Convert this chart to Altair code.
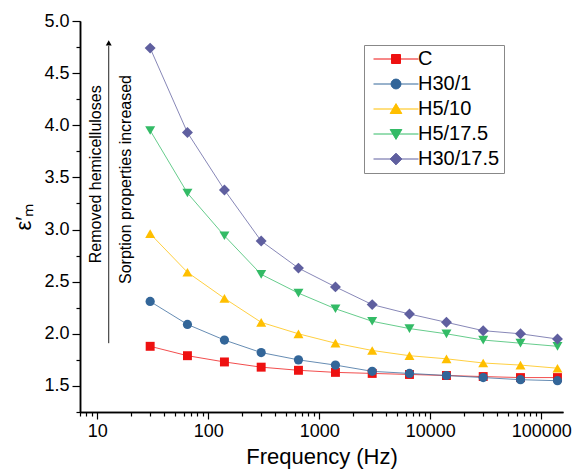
import altair as alt
import pandas as pd

# ---- data ----
freq = [30, 65, 140, 300, 650, 1400, 3000, 6500, 14000, 30000, 65000, 140000]
series_names = ["C", "H30/1", "H5/10", "H5/17.5", "H30/17.5"]
eps_C = [1.88, 1.79, 1.73, 1.68, 1.65, 1.63, 1.62, 1.61, 1.60, 1.59, 1.58, 1.58]
eps_H30_1 = [2.31, 2.09, 1.94, 1.82, 1.75, 1.70, 1.64, 1.62, 1.60, 1.58, 1.56, 1.55]
eps_H5_10 = [2.96, 2.59, 2.34, 2.11, 2.00, 1.91, 1.84, 1.79, 1.76, 1.72, 1.70, 1.67]
eps_H5_175 = [3.95, 3.35, 2.94, 2.57, 2.39, 2.24, 2.12, 2.05, 2.00, 1.94, 1.91, 1.88]
eps_H30_175 = [4.74, 3.93, 3.38, 2.89, 2.63, 2.45, 2.28, 2.19, 2.11, 2.03, 2.00, 1.95]

colors = ["#EE1111", "#336699", "#FFBF00", "#33BB66", "#5F5F9F"]
shapes = ["square", "circle", "triangle-up", "triangle-down", "diamond"]
# legend symbols: a line with the marker on it
legend_paths = [
    "M-1,0L9,0M3,-1L5,-1L5,1L3,1Z",
    "M-1,0L9,0M2.9,0A1.1,1.1 0 1,0 5.1,0A1.1,1.1 0 1,0 2.9,0Z",
    "M-1,0L9,0M4,-1.2L5.3,1L2.7,1Z",
    "M-1,0L9,0M2.7,-1L5.3,-1L4,1.2Z",
    "M-1,0L9,0M2.7,0L4,-1.3L5.3,0L4,1.3Z",
]

x_major = [10, 100, 1000, 10000, 100000]
x_minor = [7, 8, 9] + [m * 10 ** e for e in range(1, 5) for m in range(2, 10)]
y_major = [1.5, 2.0, 2.5, 3.0, 3.5, 4.0, 4.5, 5.0]
y_minor = [1.25, 1.75, 2.25, 2.75, 3.25, 3.75, 4.25, 4.75]

# annotation (arrow + two rotated texts), in data units
arrow_x = [12.7]
arrow_y = [1.91]
arrow_y2 = [4.76]
arrow_head_y = [4.79]
ann_text = ["Removed hemicelluloses", "Sorption properties increased"]
ann_x = [9.7, 18.3]
ann_y = [3.53, 3.48]

all_series = [eps_C, eps_H30_1, eps_H5_10, eps_H5_175, eps_H30_175]
rows = []
for name, col, vals in zip(series_names, colors, all_series):
    for f, v in zip(freq, vals):
        rows.append({"freq": f, "eps": v, "series": name, "col": col})
df = pd.DataFrame(rows)

FONT = "Liberation Sans"
x_scale = alt.Scale(type="log", domain=[7, 157000], nice=False)
y_scale = alt.Scale(domain=[1.25, 5.0], nice=False, zero=False)

x_major_axis = alt.Axis(title="Frequency (Hz)", values=x_major, format="d", tickSize=7,
                        labelPadding=3, titlePadding=6, grid=False, orient="bottom")
y_major_axis = alt.Axis(title="ε′ₘ", values=y_major, format=".1f", tickSize=8,
                        labelPadding=3, titlePadding=8, grid=False, orient="left")
x_minor_axis = alt.Axis(title=None, values=x_minor, labels=False, tickSize=4,
                        grid=False, orient="bottom")
y_minor_axis = alt.Axis(title=None, values=y_minor, labels=False, tickSize=4,
                        grid=False, orient="left")

base = alt.Chart(df)
lines = base.mark_line(strokeWidth=1, opacity=0.75).encode(
    x=alt.X("freq:Q", scale=x_scale, axis=x_major_axis),
    y=alt.Y("eps:Q", scale=y_scale, axis=y_major_axis),
    color=alt.Color("col:N", scale=None),
    detail="series:N",
)

point_layers = []
for i, (name, shp) in enumerate(zip(series_names, shapes)):
    if i == 0:
        xe = alt.X("freq:Q", axis=x_minor_axis)
        ye = alt.Y("eps:Q", axis=y_minor_axis)
    else:
        xe = alt.X("freq:Q", axis=None)
        ye = alt.Y("eps:Q", axis=None)
    sz = {"square": 80, "circle": 85, "triangle-up": 100, "triangle-down": 100, "diamond": 120}[shp]
    point_layers.append(
        base.transform_filter(alt.datum.series == name)
        .mark_point(filled=True, size=sz, opacity=1, shape=shp)
        .encode(x=xe, y=ye, color=alt.Color("col:N", scale=None))
    )


def make_legend():
    return alt.Legend(
        orient="none",
        legendX=284,
        legendY=24,
        symbolSize=81,
        symbolStrokeWidth=1,
        symbolOpacity=1,
        labelOffset=30,
        labelFontSize=20,
        labelFont=FONT,
        labelColor="black",
        strokeColor="#888888",
        padding=4,
        rowPadding=5,
        title=None,
    )


legend_layer = base.mark_point(filled=True, opacity=0).encode(
    x=alt.X("freq:Q", axis=None),
    y=alt.Y("eps:Q", axis=None),
    fill=alt.Fill("series:N", scale=alt.Scale(domain=series_names, range=colors),
                  title=None, legend=make_legend()),
    stroke=alt.Stroke("series:N", scale=alt.Scale(domain=series_names, range=colors),
                      title=None, legend=make_legend()),
    shape=alt.Shape("series:N", scale=alt.Scale(domain=series_names, range=legend_paths),
                    title=None, legend=make_legend()),
)

arrow_df = pd.DataFrame({"x": arrow_x, "y": arrow_y, "y2": arrow_y2, "yh": arrow_head_y})
arrow = alt.Chart(arrow_df).mark_rule(color="#222222", strokeWidth=1).encode(
    x=alt.X("x:Q", axis=None), y=alt.Y("y:Q", axis=None), y2="y2:Q"
)
head = alt.Chart(arrow_df).mark_point(shape="triangle-up", filled=True, size=35, color="black", opacity=1).encode(
    x=alt.X("x:Q", axis=None), y=alt.Y("yh:Q", axis=None)
)
text_df = pd.DataFrame({"x": ann_x, "y": ann_y, "t": ann_text})
texts = alt.Chart(text_df).mark_text(
    angle=270, align="center", baseline="middle", fontSize=16, font=FONT, color="black"
).encode(x=alt.X("x:Q", axis=None), y=alt.Y("y:Q", axis=None), text="t:N")

chart = (
    alt.layer(lines, *point_layers, legend_layer, arrow, head, texts)
    .resolve_axis(x="independent", y="independent")
    .properties(
        width=483,
        height=391,
        autosize=alt.AutoSizeParams(type="none"),
        padding={"left": 72, "top": 13, "right": 10, "bottom": 62},
        background="white",
    )
    .configure_view(stroke=None)
    .configure_axis(
        domainColor="black",
        domainWidth=1.5,
        tickColor="black",
        tickWidth=1.2,
        labelFont=FONT,
        labelFontSize=18,
        labelColor="black",
        titleFont=FONT,
        titleFontSize=22,
        titleFontWeight="normal",
        titleColor="black",
    )
)

chart.save("out.html", embed_options={"renderer": "svg", "actions": False})
